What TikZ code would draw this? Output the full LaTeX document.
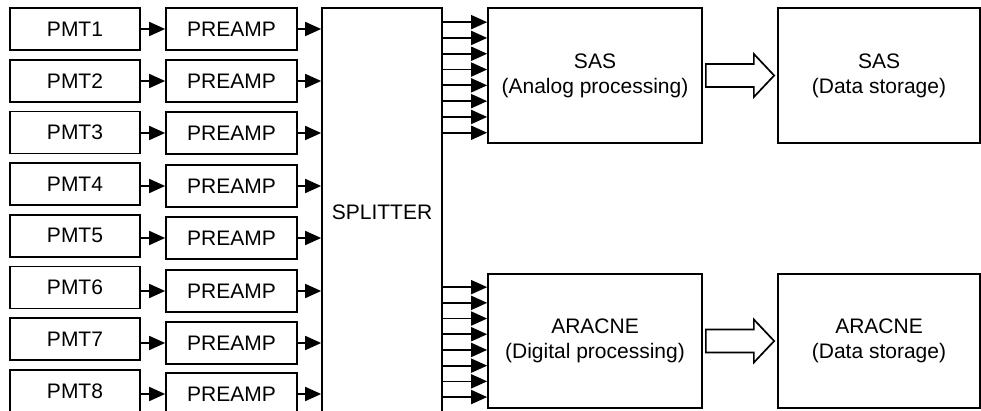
\documentclass[tikz,border=0pt]{standalone}
\usepackage{fontspec}
\setmainfont{Liberation Sans}
\usetikzlibrary{arrows.meta,positioning,calc}

\begin{document}
\begin{tikzpicture}[
		x=1pt, y=-1pt,
		>={Triangle[length=16pt,width=14pt]},
		every node/.style={font=\fontsize{21}{25}\selectfont},
		blockbox/.style={draw, line width=1.7pt, align=center, inner sep=0pt},
		sig/.style={->, line width=1.7pt},
		fatarrow/.style={draw, line width=1.7pt, fill=white, line join=miter}
		]
		
		\clip (0,0) rectangle (981,411);
		
		% PMT and preamp columns
		\foreach \i/\py in {1/29,2/81,3/133,4/186,5/238,6/291,7/343,8/394}{
			\node[blockbox, minimum width=130pt, minimum height=42pt] (pmt\i) at (75,{29+51.7*(\i-1)}) {PMT\i};
			\node[blockbox, minimum width=131pt, minimum height=42pt] (pre\i) at (231.5,\py) {PREAMP};
		}
		
		% Splitter
		\node[blockbox, minimum width=120pt, minimum height=408pt] (split) at (382,212) {SPLITTER};
		
		% Processing and storage
		\node[blockbox, minimum width=214pt, minimum height=135pt] (sas) at (595,75.5) {SAS\\(Analog processing)};
		\node[blockbox, minimum width=214pt, minimum height=134pt] (aracne) at (595,341) {ARACNE\\(Digital processing)};
		\node[blockbox, minimum width=202pt, minimum height=135pt] (sasdata) at (879,75.5) {SAS\\(Data storage)};
		\node[blockbox, minimum width=202pt, minimum height=134pt] (aracnedata) at (879,341) {ARACNE\\(Data storage)};
		
		% Arrows
		\foreach \i in {1,...,8}{
			\draw[sig] (pmt\i.east |- pre\i) -- (pre\i.west);
			\draw[sig] (pre\i.east) -- (split.west |- pre\i);
		}
		
		\foreach \k in {0,...,7}{
			\coordinate (sin\k) at ([yshift={-(15+15.8*\k)*1pt}]sas.north west);
			\coordinate (ain\k) at ([yshift={-(14+15.7*\k)*1pt}]aracne.north west);
			\draw[sig] (split.east |- sin\k) -- (sin\k);
			\draw[sig] (split.east |- ain\k) -- (ain\k);
		}
		
		\draw[fatarrow] ($(sas.east)+(3,-11.5)$) -- ($(sas.east)+(51,-11.5)$) -- ($(sas.east)+(51,-21.5)$)
			-- ($(sasdata.west)+(-3,0)$) -- ($(sas.east)+(51,21.5)$) -- ($(sas.east)+(51,11.5)$)
			-- ($(sas.east)+(3,11.5)$) -- cycle;
		\draw[fatarrow] ($(aracne.east)+(3,-11.5)$) -- ($(aracne.east)+(51,-11.5)$) -- ($(aracne.east)+(51,-21.5)$)
			-- ($(aracnedata.west)+(-3,0)$) -- ($(aracne.east)+(51,21.5)$) -- ($(aracne.east)+(51,11.5)$)
			-- ($(aracne.east)+(3,11.5)$) -- cycle;
		
	\end{tikzpicture}
\end{document}
